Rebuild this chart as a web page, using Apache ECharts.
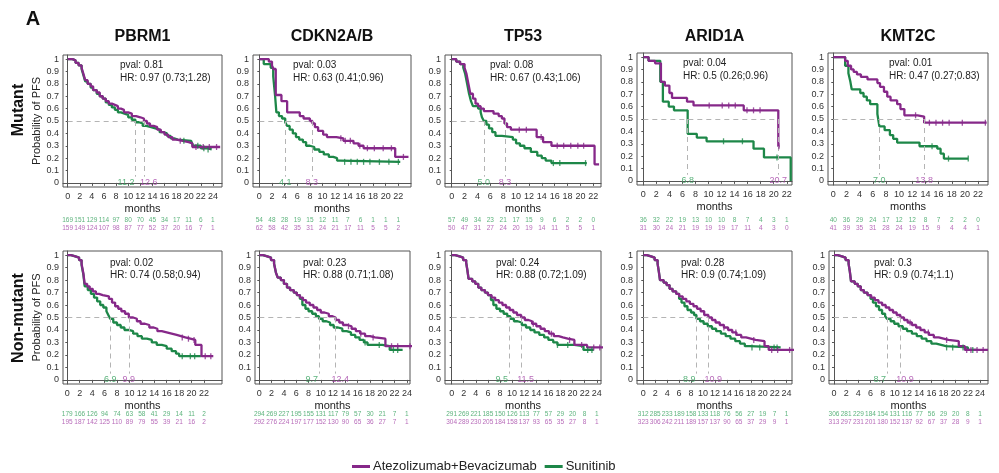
<!DOCTYPE html>
<html>
<head>
<meta charset="utf-8">
<script src="https://cdn.jsdelivr.net/npm/echarts@6/dist/echarts.min.js"></script>
<style>
  html, body { margin: 0; padding: 0; background: #fff; }
  #chart { width: 999px; height: 473px; }
</style>
</head>
<body>
<div id="chart"></div>
<script>
// ---- data ----
const genes = ["PBRM1", "CDKN2A/B", "TP53", "ARID1A", "KMT2C"];
const rowLabels = ["Mutant", "Non-mutant"];
const seriesNames = ["Atezolizumab+Bevacizumab", "Sunitinib"];
const yTicks = [0, 0.1, 0.2, 0.3, 0.4, 0.5, 0.6, 0.7, 0.8, 0.9, 1];
const xTicks22 = [0, 2, 4, 6, 8, 10, 12, 14, 16, 18, 20, 22];
const xTicks24 = [0, 2, 4, 6, 8, 10, 12, 14, 16, 18, 20, 22, 24];

// panels in order: mutant row (5 genes), then non-mutant row (5 genes)
const pvals = ["0.81", "0.03", "0.08", "0.04", "0.01", "0.02", "0.23", "0.24", "0.28", "0.3"];
const hrs = ["0.97 (0.73;1.28)", "0.63 (0.41;0.96)", "0.67 (0.43;1.06)", "0.5 (0.26;0.96)", "0.47 (0.27;0.83)",
             "0.74 (0.58;0.94)", "0.88 (0.71;1.08)", "0.88 (0.72;1.09)", "0.9 (0.74;1.09)", "0.9 (0.74;1.1)"];
const medianAtezo = [12.6, 8.3, 8.3, 20.7, 13.8, 9.9, 12.4, 11.5, 10.9, 10.9];
const medianSuni = [11.2, 4.1, 5.0, 6.8, 7.0, 6.9, 9.7, 9.5, 8.9, 8.7];
const tickMax = [24, 22, 22, 22, 22, 22, 24, 24, 24, 24];

const riskSuni = [
  [169, 151, 129, 114, 97, 80, 70, 45, 34, 17, 11, 6, 1],
  [54, 48, 28, 19, 15, 12, 11, 7, 6, 1, 1, 1],
  [57, 49, 34, 23, 21, 17, 15, 9, 6, 2, 2, 0],
  [36, 32, 22, 19, 13, 10, 10, 8, 7, 4, 3, 1],
  [40, 36, 29, 24, 17, 12, 12, 8, 7, 2, 2, 0],
  [179, 166, 126, 94, 74, 63, 58, 41, 29, 14, 11, 2],
  [294, 269, 227, 195, 155, 131, 117, 79, 57, 30, 21, 7, 1],
  [291, 269, 221, 185, 150, 126, 113, 77, 57, 29, 20, 8, 1],
  [312, 285, 233, 189, 158, 133, 118, 76, 56, 27, 19, 7, 1],
  [306, 281, 229, 184, 154, 131, 116, 77, 56, 29, 20, 8, 1]
];
const riskAtezo = [
  [159, 149, 124, 107, 98, 87, 77, 52, 37, 20, 16, 7, 1],
  [62, 58, 42, 35, 31, 24, 21, 17, 11, 5, 5, 2],
  [50, 47, 31, 27, 24, 20, 19, 14, 11, 5, 5, 1],
  [31, 30, 24, 21, 19, 19, 19, 17, 11, 4, 3, 0],
  [41, 39, 35, 31, 28, 24, 19, 15, 9, 4, 4, 1],
  [195, 187, 142, 125, 110, 89, 79, 55, 39, 21, 16, 2],
  [292, 276, 224, 197, 177, 152, 130, 90, 65, 36, 27, 7, 1],
  [304, 289, 230, 205, 184, 158, 137, 93, 65, 35, 27, 8, 1],
  [323, 306, 242, 211, 189, 157, 137, 90, 65, 37, 29, 9, 1],
  [313, 297, 231, 201, 180, 152, 137, 92, 67, 37, 28, 9, 1]
];

// Kaplan-Meier steps: [month, survival from that month on]
const kmAtezo = [
  [[0,1],[0.8,0.99],[1.3,0.97],[1.8,0.95],[2.3,0.93],[2.6,0.88],[2.9,0.83],[3.3,0.8],[3.8,0.78],[4.2,0.75],[4.8,0.73],[5.3,0.7],[5.8,0.68],[6.3,0.66],[6.8,0.64],[7.3,0.63],[7.8,0.62],[8.3,0.6],[8.8,0.59],[9.3,0.57],[10,0.56],[10.6,0.54],[11.3,0.53],[12,0.52],[12.6,0.5],[13.1,0.48],[13.6,0.46],[14.2,0.45],[14.8,0.43],[15.4,0.41],[16,0.39],[16.6,0.37],[17.3,0.35],[18,0.34],[19,0.33],[20,0.32],[20.6,0.29],[25.2,0.29]],
  [[0,1],[1.5,0.98],[2,0.95],[2.2,0.92],[2.6,0.71],[3.5,0.66],[4.4,0.57],[6.4,0.54],[7,0.52],[8,0.5],[8.4,0.48],[8.8,0.45],[9.3,0.42],[10.1,0.39],[10.7,0.37],[12.2,0.36],[13.3,0.34],[14.9,0.32],[15.7,0.3],[16.5,0.28],[21.5,0.21],[23.6,0.21]],
  [[0,1],[0.7,0.98],[1.3,0.96],[2,0.93],[2.3,0.88],[2.6,0.8],[2.9,0.72],[3.3,0.68],[3.7,0.64],[4.1,0.62],[4.5,0.6],[5,0.58],[6.5,0.56],[7.3,0.54],[7.8,0.52],[8.2,0.48],[8.6,0.45],[9.2,0.43],[13.2,0.37],[14.2,0.33],[15.5,0.3],[22.2,0.15],[22.9,0.15]],
  [[0,1],[0.8,0.97],[1.8,0.95],[2.7,0.8],[3.3,0.77],[4,0.71],[4.4,0.67],[6.7,0.64],[7.7,0.61],[15.4,0.57],[20.7,0.28],[20.9,0.28]],
  [[0,1],[1.8,0.97],[2.2,0.93],[2.7,0.9],[3.1,0.88],[3.6,0.86],[4.2,0.84],[5.2,0.82],[6.7,0.79],[7.1,0.76],[7.7,0.72],[8.2,0.68],[8.7,0.65],[9.7,0.62],[10.2,0.58],[10.8,0.53],[12.8,0.52],[13.8,0.47],[23.3,0.47]],
  [[0,1],[0.6,0.99],[1.3,0.98],[1.9,0.96],[2.3,0.93],[2.6,0.85],[2.8,0.77],[3.2,0.75],[3.6,0.73],[4.1,0.71],[4.6,0.69],[5.1,0.68],[5.7,0.67],[6.7,0.65],[7.2,0.62],[7.7,0.59],[8.2,0.57],[8.7,0.55],[9.3,0.53],[9.9,0.5],[10.6,0.49],[11.2,0.47],[11.8,0.45],[12.5,0.44],[13.2,0.42],[13.9,0.41],[14.5,0.39],[15.2,0.38],[16,0.37],[16.8,0.36],[17.6,0.35],[18.3,0.34],[19,0.33],[19.8,0.32],[20.6,0.28],[21.6,0.19],[23.5,0.19]],
  [[0,1],[0.6,0.99],[1.3,0.98],[1.9,0.96],[2.4,0.93],[2.7,0.86],[3,0.82],[3.5,0.8],[4,0.77],[4.5,0.74],[5,0.72],[5.6,0.7],[6.1,0.68],[6.6,0.66],[7.1,0.64],[7.6,0.62],[8.2,0.6],[8.8,0.58],[9.4,0.56],[10,0.54],[10.6,0.53],[11.3,0.51],[11.9,0.5],[12.4,0.48],[13,0.46],[13.6,0.44],[14.3,0.43],[15,0.41],[15.7,0.39],[16.4,0.37],[17.2,0.35],[18,0.34],[18.8,0.33],[20.5,0.27],[25.3,0.27]],
  [[0,1],[0.6,0.99],[1.3,0.98],[1.9,0.96],[2.4,0.94],[2.6,0.88],[2.8,0.81],[3.4,0.79],[3.9,0.77],[4.4,0.74],[4.9,0.72],[5.5,0.7],[6,0.68],[6.6,0.66],[7.2,0.64],[7.8,0.62],[8.4,0.6],[9,0.58],[9.6,0.56],[10.2,0.54],[10.8,0.52],[11.5,0.5],[12.1,0.48],[12.7,0.47],[13.3,0.45],[14,0.43],[14.7,0.41],[15.4,0.39],[16.1,0.37],[16.9,0.35],[17.7,0.34],[18.4,0.33],[19.2,0.32],[20.3,0.28],[22.4,0.26],[25.3,0.26]],
  [[0,1],[0.6,0.99],[1.3,0.98],[1.9,0.96],[2.4,0.93],[2.6,0.87],[2.8,0.8],[3.4,0.78],[3.9,0.76],[4.4,0.73],[4.9,0.71],[5.5,0.69],[6,0.67],[6.6,0.65],[7.2,0.63],[7.8,0.61],[8.4,0.59],[9,0.57],[9.6,0.55],[10.2,0.52],[10.9,0.5],[11.5,0.48],[12.1,0.46],[12.8,0.44],[13.5,0.42],[14.2,0.4],[14.9,0.38],[15.6,0.36],[16.4,0.34],[17.2,0.33],[18,0.32],[18.8,0.31],[20.3,0.27],[21,0.24],[25.3,0.24]],
  [[0,1],[0.6,0.99],[1.3,0.98],[1.9,0.96],[2.4,0.93],[2.6,0.87],[2.8,0.79],[3.4,0.77],[3.9,0.75],[4.4,0.72],[4.9,0.7],[5.5,0.68],[6.1,0.66],[6.7,0.64],[7.3,0.62],[7.9,0.6],[8.5,0.58],[9.1,0.56],[9.7,0.54],[10.3,0.52],[10.9,0.5],[11.5,0.48],[12.1,0.46],[12.8,0.44],[13.5,0.42],[14.2,0.4],[14.9,0.38],[15.6,0.36],[16.4,0.34],[17.2,0.33],[18,0.32],[18.8,0.31],[20.5,0.27],[21.5,0.24],[25.3,0.24]]
];
const kmSuni = [
  [[0,1],[0.8,0.99],[1.3,0.97],[1.8,0.95],[2.3,0.92],[2.6,0.87],[2.9,0.82],[3.3,0.8],[3.8,0.77],[4.2,0.75],[4.8,0.72],[5.3,0.7],[5.8,0.68],[6.3,0.65],[6.8,0.63],[7.3,0.61],[7.8,0.59],[8.3,0.57],[8.8,0.56],[9.4,0.55],[10,0.53],[10.6,0.51],[11.2,0.49],[11.8,0.48],[12.4,0.46],[13,0.45],[13.8,0.44],[14.5,0.43],[15.2,0.41],[15.8,0.4],[16.4,0.38],[17,0.36],[17.6,0.35],[18.2,0.34],[20.4,0.33],[20.7,0.3],[22,0.28],[23,0.27],[23.8,0.27]],
  [[0,1],[0.7,0.96],[1.8,0.93],[2.2,0.86],[2.5,0.7],[2.7,0.57],[3.1,0.54],[3.6,0.52],[4.1,0.49],[4.4,0.46],[4.8,0.43],[5.3,0.4],[5.8,0.37],[6.3,0.35],[6.9,0.33],[7.4,0.3],[8,0.29],[8.7,0.27],[9.5,0.25],[10.2,0.23],[11,0.21],[11.7,0.2],[12.3,0.18],[12.8,0.17],[22.3,0.17]],
  [[0,1],[0.7,0.98],[1.3,0.96],[1.8,0.93],[2.1,0.88],[2.4,0.8],[2.7,0.72],[3,0.66],[3.3,0.62],[4.1,0.6],[4.5,0.57],[4.7,0.53],[5,0.5],[5.4,0.47],[5.8,0.44],[6.3,0.41],[6.8,0.38],[7.8,0.37],[9.5,0.35],[10,0.32],[10.6,0.3],[11.3,0.28],[12.3,0.25],[13.3,0.22],[14,0.2],[14.6,0.18],[15.5,0.16],[21,0.16]],
  [[0,1],[0.8,0.97],[2.6,0.8],[3,0.64],[3.9,0.6],[4.7,0.57],[6.8,0.38],[8.2,0.35],[9.7,0.32],[16.9,0.26],[18.5,0.19],[22.6,0]],
  [[0,1],[1.8,0.93],[2.3,0.87],[2.6,0.8],[2.8,0.74],[4.1,0.71],[4.6,0.68],[5.1,0.65],[5.6,0.62],[6.7,0.54],[7,0.44],[7.8,0.41],[8.6,0.37],[9.1,0.34],[9.7,0.31],[13.1,0.28],[15.8,0.26],[16.3,0.22],[16.8,0.18],[20.5,0.18]],
  [[0,1],[0.6,0.99],[1.3,0.98],[1.9,0.96],[2.3,0.92],[2.6,0.84],[2.8,0.75],[3.3,0.72],[3.8,0.69],[4.3,0.66],[4.8,0.63],[5.3,0.6],[5.8,0.58],[6.3,0.55],[6.6,0.52],[6.9,0.49],[7.4,0.46],[8,0.44],[8.6,0.42],[9.2,0.4],[9.9,0.39],[10.6,0.37],[11.3,0.35],[12,0.33],[12.8,0.32],[13.6,0.3],[14.4,0.28],[15.2,0.27],[16,0.25],[16.8,0.23],[17.5,0.21],[18,0.19],[21.5,0.19]],
  [[0,1],[0.6,0.99],[1.3,0.98],[1.9,0.96],[2.4,0.93],[2.7,0.86],[3,0.82],[3.5,0.8],[4,0.77],[4.5,0.74],[5,0.72],[5.6,0.7],[6.1,0.68],[6.6,0.65],[7,0.6],[7.5,0.57],[8,0.55],[8.6,0.53],[9.2,0.51],[9.7,0.49],[10.3,0.47],[10.9,0.46],[11.5,0.44],[12.1,0.42],[12.8,0.41],[13.5,0.39],[14.2,0.38],[14.9,0.36],[15.6,0.34],[16.3,0.32],[17,0.3],[17.6,0.28],[20,0.27],[21.2,0.24],[23.3,0.24]],
  [[0,1],[0.6,0.99],[1.3,0.98],[1.9,0.96],[2.4,0.94],[2.6,0.88],[2.8,0.81],[3.4,0.79],[3.9,0.77],[4.4,0.74],[4.9,0.72],[5.5,0.7],[6,0.68],[6.5,0.64],[6.9,0.6],[7.4,0.57],[8,0.55],[8.6,0.53],[9.2,0.51],[9.7,0.49],[10.3,0.47],[10.9,0.46],[11.6,0.44],[12.3,0.42],[13,0.4],[13.7,0.38],[14.5,0.36],[15.3,0.34],[16,0.32],[16.8,0.3],[17.5,0.28],[20.3,0.27],[21.8,0.24],[23.5,0.24]],
  [[0,1],[0.6,0.99],[1.3,0.98],[1.9,0.96],[2.4,0.93],[2.6,0.87],[2.8,0.8],[3.4,0.78],[3.9,0.76],[4.4,0.73],[4.9,0.71],[5.5,0.69],[6,0.65],[6.4,0.62],[6.9,0.59],[7.4,0.56],[8,0.54],[8.5,0.52],[8.9,0.49],[9.5,0.47],[10.1,0.45],[10.8,0.43],[11.5,0.41],[12.2,0.39],[13,0.37],[13.8,0.35],[14.6,0.33],[15.4,0.31],[16.2,0.29],[17,0.27],[17.8,0.26],[23,0.26]],
  [[0,1],[0.6,0.99],[1.3,0.98],[1.9,0.96],[2.4,0.93],[2.6,0.87],[2.8,0.79],[3.4,0.77],[3.9,0.75],[4.4,0.72],[4.9,0.7],[5.5,0.68],[6,0.65],[6.4,0.62],[6.9,0.59],[7.4,0.56],[7.9,0.53],[8.4,0.51],[8.7,0.49],[9.3,0.47],[9.9,0.45],[10.6,0.43],[11.3,0.41],[12,0.39],[12.8,0.37],[13.6,0.35],[14.4,0.33],[15.2,0.31],[16,0.29],[16.8,0.28],[17.6,0.27],[18.4,0.26],[22,0.24],[23.5,0.24]]
];
// censoring times (months)
const censorAtezo = [
  [18.6, 21.2, 22.4, 23.4, 24.6],
  [12.9, 13.6, 14.4, 15.9, 17.1, 18.2, 19.6, 20.9, 22.8],
  [10.5, 11.6, 13.9, 16.4, 17.4, 18.5, 19.6, 20.5],
  [10.1, 12.1, 13.1, 14.1, 15.9, 16.9, 17.9, 20.8],
  [12.5, 14.6, 15.6, 16.6, 17.6, 19.6, 23.1],
  [18.5, 19.5, 20.4, 22.2, 23.1],
  [14.5, 16.5, 18.5, 21.5, 22.5, 24.5],
  [13.5, 16.5, 19.5, 21.5, 23.5, 24.5],
  [13.5, 15.5, 18.5, 21.5, 22.5, 24.5],
  [12.5, 15.5, 18.5, 21.8, 22.5, 23.5, 24.5]
];
const censorSuni = [
  [19.2, 21.5, 22.5, 23.2],
  [13.5, 14.5, 15.5, 16.5, 17.5, 19, 20.5, 22],
  [15.8, 16.8, 20.8],
  [12.3, 15.2, 20.5],
  [15, 17.5, 20.5],
  [18.5, 19.8, 20.5],
  [17.2, 19.5, 21.8, 22.5],
  [17.5, 19.2, 22.5, 23.2],
  [18.2, 19.5, 21.9, 22.4],
  [18.5, 19.5, 21.2, 22.8]
];

// ---- layout ----
const boxes = [
  { left: 63, top: 55, width: 159, height: 132, xmin: -0.77, xmax: 25.5 },
  { left: 253, top: 55, width: 158, height: 132, xmin: -1.0, xmax: 24.0 },
  { left: 445, top: 55, width: 156, height: 132, xmin: -1.04, xmax: 23.2 },
  { left: 637, top: 53, width: 155, height: 132, xmin: -0.97, xmax: 22.8 },
  { left: 828, top: 53, width: 160, height: 132, xmin: -0.8, xmax: 23.5 },
  { left: 63, top: 251, width: 159, height: 133, xmin: -0.69, xmax: 24.9 },
  { left: 255, top: 251, width: 155, height: 133, xmin: -0.7, xmax: 24.5 },
  { left: 445, top: 251, width: 156, height: 133, xmin: -1.1, xmax: 24.7 },
  { left: 637, top: 251, width: 155, height: 133, xmin: -1.05, xmax: 24.9 },
  { left: 829, top: 251, width: 159, height: 133, xmin: -0.82, xmax: 25.3 }
];
const riskTop = [216, 410];
const statOffset = [57, 40, 45, 46, 61, 47, 48, 51, 44, 45];

const PURPLE = "#862889";
const GREEN = "#1d8748";
const PURPLE_TXT = "#a545a8";
const GREEN_TXT = "#34a05c";
const FONT = '"Liberation Sans", Arial, sans-serif';

const chart = echarts.init(document.getElementById("chart"));

const stepValue = (curve, t) => {
  let v = curve[0][1];
  curve.forEach(([x, y]) => { if (x <= t) v = y; });
  return v;
};

const grid = [], xAxis = [], yAxis = [], series = [], graphic = [];

boxes.forEach((b, i) => {
  const row = i < 5 ? 0 : 1;
  const ticks = tickMax[i] === 24 ? xTicks24 : xTicks22;
  const g = i * 2;

  // main plot box + risk table strip
  grid.push({ left: b.left, top: b.top, width: b.width, height: b.height, show: true,
              borderColor: "#555", borderWidth: 1, backgroundColor: "transparent" });
  grid.push({ left: b.left, top: riskTop[row], width: b.width, height: 16 });

  xAxis.push({
    gridIndex: g, type: "value", min: b.xmin, max: b.xmax, offset: 3,
    axisLine: { show: true, lineStyle: { color: "#555" } },
    axisTick: { show: true, length: 3, customValues: ticks, lineStyle: { color: "#555" } },
    axisLabel: { fontSize: 9, color: "#333", margin: 2, customValues: ticks, fontFamily: FONT },
    splitLine: { show: false },
    name: "months", nameLocation: "middle", nameGap: 13,
    nameTextStyle: { fontSize: 11, color: "#222", fontFamily: FONT }
  });
  xAxis.push({ gridIndex: g + 1, type: "value", min: b.xmin, max: b.xmax, show: false });

  yAxis.push({
    gridIndex: g, type: "value", min: -0.033, max: 1.033, offset: 2,
    axisLine: { show: true, lineStyle: { color: "#555" } },
    axisTick: { show: true, length: 2, customValues: yTicks, lineStyle: { color: "#555" } },
    axisLabel: { fontSize: 9, color: "#333", margin: 2, customValues: yTicks, fontFamily: FONT,
                 formatter: (v) => String(+v.toFixed(1)) },
    splitLine: { show: false },
    name: i % 5 === 0 ? "Probability of PFS" : "",
    nameLocation: "middle", nameGap: 18, nameRotate: 90,
    nameTextStyle: { fontSize: 11, color: "#222", fontFamily: FONT }
  });
  yAxis.push({ gridIndex: g + 1, type: "value", min: 0, max: 1, show: false });

  const mA = medianAtezo[i], mS = medianSuni[i];
  const close = Math.abs(mA - mS) < 3;

  // KM curves
  series.push({
    name: seriesNames[1], type: "line", step: "end", xAxisIndex: g, yAxisIndex: g,
    data: kmSuni[i], symbol: "none", z: 3,
    lineStyle: { color: GREEN, width: 2.3 }, itemStyle: { color: GREEN },
    markLine: {
      silent: true, symbol: ["none", "none"], label: { show: false },
      lineStyle: { color: "#b4b4b4", type: [5, 4], width: 1 },
      data: [
        [{ coord: [0, 0.5] }, { coord: [Math.max(mA, mS), 0.5] }],
        [{ coord: [mS, 0.5] }, { coord: [mS, 0.05] }],
        [{ coord: [mA, 0.5] }, { coord: [mA, 0.05] }]
      ]
    }
  });
  series.push({
    name: seriesNames[0], type: "line", step: "end", xAxisIndex: g, yAxisIndex: g,
    data: kmAtezo[i], symbol: "none", z: 4,
    lineStyle: { color: PURPLE, width: 2.3 }, itemStyle: { color: PURPLE }
  });

  // censor ticks
  series.push({
    type: "scatter", xAxisIndex: g, yAxisIndex: g, symbol: "rect", symbolSize: [1.3, 6],
    itemStyle: { color: GREEN }, z: 5, silent: true,
    data: censorSuni[i].map((t) => [t, stepValue(kmSuni[i], t)])
  });
  series.push({
    type: "scatter", xAxisIndex: g, yAxisIndex: g, symbol: "rect", symbolSize: [1.3, 6],
    itemStyle: { color: PURPLE }, z: 5, silent: true,
    data: censorAtezo[i].map((t) => [t, stepValue(kmAtezo[i], t)])
  });

  // median labels
  series.push({
    type: "scatter", xAxisIndex: g, yAxisIndex: g, symbolSize: 1, silent: true, z: 6,
    itemStyle: { color: "rgba(0,0,0,0)" },
    data: [[mS, 0]],
    label: { show: true, position: "inside", formatter: mS.toFixed(1), color: GREEN_TXT,
             fontSize: 9, fontFamily: FONT, align: close ? "right" : "center",
             offset: [close ? -1 : 0, 0] }
  });
  series.push({
    type: "scatter", xAxisIndex: g, yAxisIndex: g, symbolSize: 1, silent: true, z: 6,
    itemStyle: { color: "rgba(0,0,0,0)" },
    data: [[mA, 0]],
    label: { show: true, position: "inside", formatter: mA.toFixed(1), color: PURPLE_TXT,
             fontSize: 9, fontFamily: FONT, align: close ? "left" : "center",
             offset: [close ? -4 : 0, 0] }
  });

  // numbers at risk
  series.push({
    type: "scatter", xAxisIndex: g + 1, yAxisIndex: g + 1, symbolSize: 1, silent: true,
    itemStyle: { color: "rgba(0,0,0,0)" },
    data: riskSuni[i].map((n, k) => [ticks[k], 0.75, n]),
    label: { show: true, position: "inside", formatter: (p) => p.value[2],
             color: GREEN_TXT, fontSize: 6.5, fontFamily: FONT }
  });
  series.push({
    type: "scatter", xAxisIndex: g + 1, yAxisIndex: g + 1, symbolSize: 1, silent: true,
    itemStyle: { color: "rgba(0,0,0,0)" },
    data: riskAtezo[i].map((n, k) => [ticks[k], 0.25, n]),
    label: { show: true, position: "inside", formatter: (p) => p.value[2],
             color: PURPLE_TXT, fontSize: 6.5, fontFamily: FONT }
  });

  // pval / HR
  const ty = b.top + (row === 0 ? 10.5 : 12);
  graphic.push({ type: "text", x: b.left + statOffset[i], y: ty,
    style: { text: "pval: " + pvals[i], fill: "#222", font: "10px " + FONT, verticalAlign: "middle" } });
  graphic.push({ type: "text", x: b.left + statOffset[i], y: ty + 12.5,
    style: { text: "HR: " + hrs[i], fill: "#222", font: "10px " + FONT, verticalAlign: "middle" } });

  // gene titles over the top row
  if (row === 0) {
    graphic.push({ type: "text", x: b.left + b.width / 2, y: 37,
      style: { text: genes[i], fill: "#111", font: "bold 16px " + FONT, align: "center", verticalAlign: "middle" } });
  }
});

graphic.push({ type: "text", x: 33, y: 19,
  style: { text: "A", fill: "#111", font: "bold 20px " + FONT, align: "center", verticalAlign: "middle" } });
graphic.push({ type: "text", x: 19, y: 110, rotation: Math.PI / 2,
  style: { text: rowLabels[0], fill: "#111", font: "bold 16px " + FONT, align: "center", verticalAlign: "middle" } });
graphic.push({ type: "text", x: 19, y: 318, rotation: Math.PI / 2,
  style: { text: rowLabels[1], fill: "#111", font: "bold 16px " + FONT, align: "center", verticalAlign: "middle" } });

chart.setOption({
  animation: false,
  backgroundColor: "#fff",
  textStyle: { fontFamily: FONT },
  legend: {
    data: seriesNames, left: 347, top: 455, icon: "rect",
    itemWidth: 18, itemHeight: 3, itemGap: 8,
    textStyle: { fontSize: 13, color: "#222", fontFamily: FONT, padding: [0, 0, 0, -2] }
  },
  grid, xAxis, yAxis, series, graphic
});
</script>
</body>
</html>
